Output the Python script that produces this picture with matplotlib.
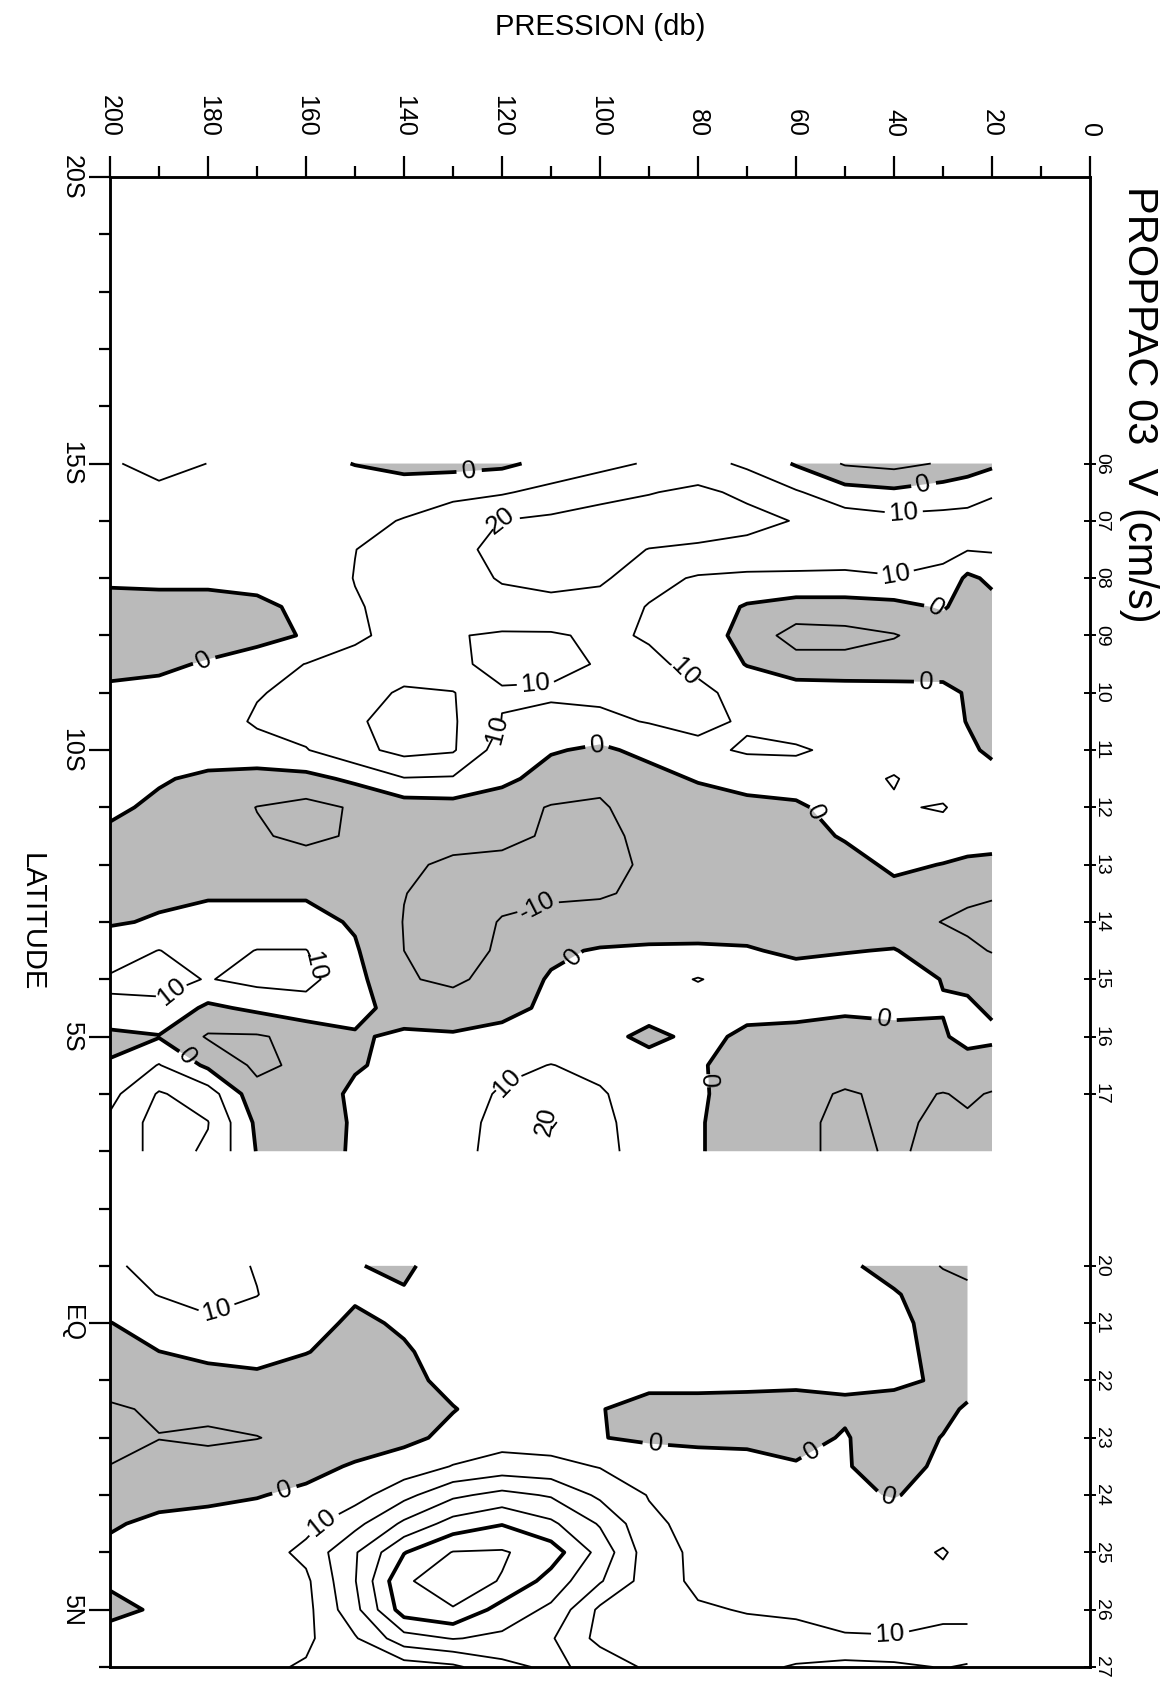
import numpy as np
import matplotlib
matplotlib.use("Agg")
import matplotlib.pyplot as plt
from matplotlib import font_manager as fm
from matplotlib.ticker import MultipleLocator

# ---------------- data ----------------
# Section A (stations 06-17), latitude rows x pressure columns, V in cm/s
pressure_A = [20, 25, 30, 40, 50, 60, 70, 80, 90, 100, 110, 120, 130, 140, 150, 160, 170, 180, 190, 200]
lat_A = [-15.0, -14.5, -14.0, -13.5, -13.0, -12.5, -12.0, -11.5, -11.0, -10.5, -10.0, -9.5, -9.0,
         -8.5, -8.0, -7.5, -7.0, -6.5, -6.0, -5.5, -5.0, -4.5, -4.0, -3.5, -3.0]
V_A = [
    [-2, -6, -9, -13, -11, -1, 8, 14, 11, 7, 3, -2, -3, -3, -0.3, 3, 6, 9.9, 13, 9],
    [9.5, 7, 5, 2, 4, 11, 18, 22, 19.5, 17, 13, 9, 7, 5, 5, 5, 6, 7, 8, 6],
    [12, 12.5, 13, 13, 15, 19.5, 23, 25, 25, 24, 22, 20.2, 16, 10.6, 7, 6, 6, 6, 6, 6],
    [11, 10.5, 12, 14, 15, 16, 17, 18.5, 19.8, 23, 24, 22, 18, 13, 9.9, 7, 6, 6, 6, 6],
    [2, -2, 8, 9.5, 8, 8, 8, 9, 13, 22, 23, 21, 15, 12, 10.2, 6, 3, 2, 2, 1.5],
    [-3, -4, 1, -3, -4, -4, -1, 6, 9.5, 15, 17, 16, 14, 12, 9.5, 2, -2, -3, -3, -3],
    [-4, -5, -6, -10.5, -13, -14, -4, 6, 9.3, 11.5, 9, 9, 10.5, 12, 9, 1, -4, -5, -5, -5],
    [-5, -5, -5, -6, -7, -6, -0.5, 8, 11.5, 10.5, 8, 8.5, 11, 13, 12, 10.2, 6, 1, -2, -3],
    [-3, -1, 3, 4, 5, 5, 7, 12, 13, 12, 11, 10.5, 20.5, 22, 14, 12, 9.5, 5, 3, 2],
    [-3, -0.3, 3, 4, 5, 6, 9, 12, 10.5, 8, 8, 9.8, 21, 23, 19, 14, 11, 6, 4, 3],
    [-1.5, 1.5, 4, 6, 8, 11, 11, 8, 3, -2, 1, 5, 21, 23, 17, 9.5, 7, 5, 4, 3],
    [3, 4, 5, 10.6, 7, 6, 4, 1, -4, -9, -5, 3, 9, 9.5, 2, -3, -4, -2, 1, 2],
    [4, 6, 10.8, 9, 5, -2, -3, -6, -8, -10.5, -10.5, -7, -4, -5, -9, -13, -10.2, -5, -2, 2],
    [5, 5, 6, 5, 1, -4, -5, -7, -9, -11, -11, -8, -6, -6, -9, -12, -9, -6, -4, -2],
    [-3, -2, -0.3, 2, -4, -6, -7, -8, -9, -12, -13, -12, -12, -8, -6, -6, -5, -5, -5, -4],
    [-9, -8, -6, -3, -5, -6, -7, -8, -9, -10.5, -11, -12, -13, -9.8, -6, -1, -1, -1, -2, -3],
    [-13, -12, -10.3, -6, -5, -5, -5, -6, -7, -8, -8, -9.5, -14, -10.3, -1, 3, 3, 3, 1, -1],
    [-10.5, -8, -5, 0.5, -0.5, -2, 1, 2, 2, 1, -2, -9, -13, -10, 1, 10.3, 10.3, 6, 10.2, 6],
    [-4, -2, -0.3, 4, 5, 5, 6, 10.5, 6, 4, 1, -6, -12, -9, 3, 13, 13, 9.5, 13, 11],
    [-1.5, 1.5, 0.5, 1.5, 0.8, 2, 3, 5, 5, 4, 2, -3, -5, -4, 3, 6, 2, -2, 8, 9],
    [2, 3, -1, -2, -2, -2, -2, 3, -3, 4, 5, 3, 1, 1.5, -1, -7, -11, -11, -0.5, -3],
    [-5, -4, -4, -5, -5, -5, -4, 1, 5, 8, 10.2, 8, 5, 3, -1, -8, -12, -2, 10.5, 1],
    [-10.5, -9, -10.3, -8, -11, -7, -5, 1.5, 6, 10.8, 15, 11, 6, 4, 2, -6, -7, 15, 21, 7],
    [-12, -11, -12, -8, -12, -8, -6, 1, 6, 12, 21, 13, 6, 3, 1, -5, -2, 20.3, 24, 12],
    [-13, -12, -12, -9, -12, -8, -6, 1, 7, 12, 17, 13, 7, 3, 1, -4, -0.5, 19, 23, 14],
]

# Section B (stations 20-27)
pressure_B = [25, 30, 40, 50, 60, 70, 80, 90, 100, 110, 120, 130, 140, 150, 160, 170, 180, 190, 200]
lat_B = [-1.0, -0.5, 0.0, 0.5, 1.0, 1.5, 2.0, 2.5, 3.0, 3.5, 4.0, 4.5, 5.0, 5.5, 6.0]
V_B = [
    [-12, -10.5, -4, 2, 4, 5, 5, 5, 5, 5, 5, 6, -2, 0.5, 6, 9.5, 13, 12, 9],
    [-8, -6, 1, 3, 4, 5, 5, 5, 5, 5, 5, 4, 1, 1, 5, 10.2, 14, 10.3, 6],
    [-5, -3, 2, 4, 4, 5, 5, 5, 5, 5, 4, 3, 1, -1.5, 3, 7, 8, 5, -0.3],
    [-4, -2, 2, 4, 4, 4, 4, 4, 4, 4, 4, 3, -0.8, -3, 0.3, 3, 2, -0.1, -3],
    [-3, -1, 1.5, 1, 1.5, 2, 2, 2, 2, 3, 3, 2, -2, -5, -4, -2, -3, -5, -7],
    [1, -2, -3, -1, -3, -3, -2.5, -2.5, 0.3, 4, 3, -0.3, -4, -6, -6, -6, -7, -9, -11],
    [2, 0.3, -4, 0.5, -2, -2, -2, -1.5, 0.3, 5, 6, 2, -2, -5, -7, -10.3, -12, -10.2, -13],
    [3, 1.5, -3, 0.5, 0.5, 3, 4, 6, 9.5, 13, 14, 10.5, 4, 1, -3, -4, -5, -7, -9.8],
    [4, 3, -0.5, 1.5, 3, 5, 7, 9.5, 18, 29, 33, 28, 17, 6, 2, -0.5, -2, -3, -4],
    [5, 5, 4, 4, 5, 6, 7, 12, 29, 42, 49.5, 44, 32, 17, 7, 4, 3, 2, -1],
    [6, 11, 5, 5, 6, 7, 8, 14.3, 36.6, 55, 61, 60.5, 49.5, 29, 12.6, 5, 4, 3, 2],
    [7, 7, 6, 6, 7, 7.5, 8, 15, 31, 46, 59.5, 64, 59, 29.5, 8, 5, 4, 3, 1],
    [8, 8, 8, 8, 9, 9.5, 11, 13, 18, 38, 46, 59.5, 55, 27, 7, 5, 4, 1, -2],
    [12, 12, 10.3, 10.5, 12, 13, 14, 16, 17, 31, 38, 40.5, 36, 19, 8, 5, 4, 4, 3],
    [21, 19.5, 22, 23, 21, 17, 16, 18, 27, 32, 27, 18, 15, 13, 11, 8, 6, 5, 4],
]

contour_levels = [-10, 0, 10, 20, 30, 40, 50, 60]
bold_levels = [0, 50]

pressure_ticks = [0, 20, 40, 60, 80, 100, 120, 140, 160, 180, 200]
lat_ticks = [-20, -15, -10, -5, 0, 5]
lat_ticklabels = ["20S", "15S", "10S", "5S", "EQ", "5N"]
station_names = ["06", "07", "08", "09", "10", "11", "12", "13", "14", "15", "16", "17",
                 "20", "21", "22", "23", "24", "25", "26", "27"]
station_lats = [-15, -14, -13, -12, -11, -10, -9, -8, -7, -6, -5, -4,
                -1, 0, 1, 2, 3, 4, 5, 6]

# contour-label anchor points (pressure, latitude)
label_pos_A = [(126.5, -14.8), (120.4, -14.03), (34, -14.64), (38.4, -14.29), (38.4, -12.95),
               (32.6, -12.4), (33.3, -11.24), (81.6, -11.41), (113, -11.12), (121.8, -10.37),
               (179.6, -11.47), (101.4, -10.2), (55.1, -8.92), (114.3, -7.4), (106, -6.41),
               (156.8, -6.24), (186.7, -5.75), (183.7, -4.67), (119, -4.2), (110.9, -3.51),
               (42.2, -5.25), (78.2, -4.23)]
label_pos_B = [(177.6, -0.09), (164.6, 2.87), (156.5, 3.51), (88.8, 2.18), (55.8, 2.35),
               (40.8, 2.93), (40.8, 5.49)]


# ---------------- fonts ----------------
def _has(fam):
    try:
        fm.findfont(fm.FontProperties(family=fam), fallback_to_default=False)
        return True
    except Exception:
        return False


REG = "Liberation Sans" if _has("Liberation Sans") else "DejaVu Sans"
NARROW_OK = _has("Liberation Sans Narrow")
NAR = "Liberation Sans Narrow" if NARROW_OK else REG
TICK_FS = 22 if NARROW_OK else 18
CL_FS = 21 if NARROW_OK else 18.5

plt.rcParams["font.family"] = [REG, "DejaVu Sans"]
plt.rcParams["contour.negative_linestyle"] = "solid"

# ---------------- figure ----------------
W_PX, H_PX = 1174, 1684
fig = plt.figure(figsize=(W_PX / 100, H_PX / 100), dpi=100)
ax_l, ax_r, ax_t, ax_b = 110, 1090, 177, 1667
ax = fig.add_axes([ax_l / W_PX, 1 - ax_b / H_PX, (ax_r - ax_l) / W_PX, (ax_b - ax_t) / H_PX])

SHADE = "#bababa"


def draw_section(p, la, v, label_pos):
    P, L = np.meshgrid(np.array(p, float), np.array(la, float))
    Z = np.array(v, float)
    ax.contourf(P, L, Z, levels=[-1000, 0], colors=[SHADE], antialiased=True)
    present = [lv for lv in contour_levels if Z.min() < lv < Z.max()]
    cs = ax.contour(P, L, Z, levels=present, colors="black", linestyles="solid",
                    linewidths=[2.7 if lv in bold_levels else 1.3 for lv in present])
    ax.clabel(cs, present, manual=label_pos, inline=True, inline_spacing=7,
              fmt="%d", fontsize=CL_FS, colors="black")
    for t in cs.labelTexts:
        t.set_fontfamily(NAR)
    return cs


draw_section(pressure_A, lat_A, V_A, label_pos_A)
draw_section(pressure_B, lat_B, V_B, label_pos_B)

ax.set_xlim(200, 0)
ax.set_ylim(6, -20)

# top pressure axis
ax.xaxis.tick_top()
ax.set_xticks(pressure_ticks)
ax.set_xticklabels([str(t) for t in pressure_ticks])
ax.xaxis.set_minor_locator(MultipleLocator(10))
ax.tick_params(axis="x", which="major", direction="out", length=15, width=1.6,
               pad=14, labelsize=TICK_FS, labelrotation=-90)
ax.tick_params(axis="x", which="minor", direction="out", length=8, width=1.6)
for lab in ax.get_xticklabels():
    lab.set_fontfamily(NAR)
    lab.set_va("bottom")
    lab.set_ha("center")

# left latitude axis
ax.set_yticks(lat_ticks)
ax.set_yticklabels(lat_ticklabels)
ax.yaxis.set_minor_locator(MultipleLocator(1))
ax.tick_params(axis="y", which="major", direction="out", length=15, width=1.6,
               pad=4, labelsize=TICK_FS, labelrotation=-90, right=False)
ax.tick_params(axis="y", which="minor", direction="out", length=8, width=1.6, right=False)
for lab in ax.get_yticklabels():
    lab.set_fontfamily(NAR)
    lab.set_va("center")

for s in ax.spines.values():
    s.set_linewidth(1.8)

# right station axis
ax2 = ax.twinx()
ax2.set_ylim(6, -20)
ax2.set_yticks(station_lats)
ax2.set_yticklabels(station_names)
ax2.yaxis.set_minor_locator(plt.NullLocator())
ax2.tick_params(axis="y", which="major", direction="inout", length=8, width=1.4,
                pad=-2, labelsize=14, labelrotation=-90)
for lab in ax2.get_yticklabels():
    lab.set_va("center")
    lab.set_fontfamily(REG)
for s in ax2.spines.values():
    s.set_linewidth(1.8)

# texts
fig.text(600 / W_PX, 1 - 27 / H_PX, "PRESSION (db)", ha="center", va="center",
         fontsize=21, family=REG)
fig.text(32 / W_PX, 1 - 922 / H_PX, "LATITUDE", rotation=-90, ha="center", va="center",
         fontsize=21, family=REG)
fig.text(1139 / W_PX, 1 - 186 / H_PX, "PROPPAC 03  V (cm/s)", rotation=-90,
         ha="center", va="top", fontsize=30, family=REG)

fig.savefig("out.png", dpi=100)
